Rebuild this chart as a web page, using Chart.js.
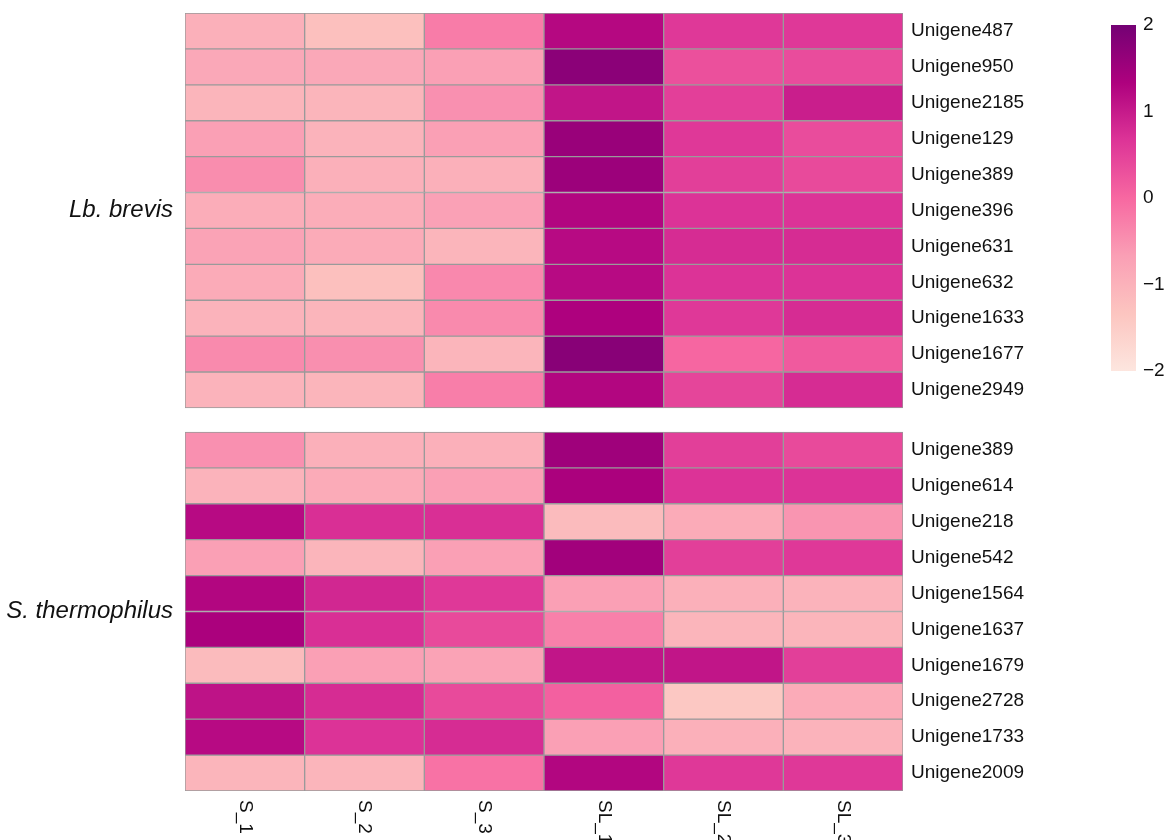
<!DOCTYPE html>
<html><head><meta charset="utf-8">
<script src="https://cdn.jsdelivr.net/npm/chart.js@4.4.1/dist/chart.umd.min.js"></script>
<style>
html,body{margin:0;padding:0;background:#fff;}
#wrap{position:relative;width:1165px;height:840px;overflow:hidden;}
#main{position:absolute;left:0;top:0;}
#cb{position:absolute;left:1100px;top:0;}
</style></head><body>
<div id="wrap">
<canvas id="main" width="1165" height="840"></canvas>
<canvas id="cb" width="65" height="400"></canvas>
</div>
<script>
// ---- data ----
const samples = ['S_1','S_2','S_3','SL_1','SL_2','SL_3'];
const groupNames = ['Lb. brevis','S. thermophilus'];
const lbGenes = ['Unigene487','Unigene950','Unigene2185','Unigene129','Unigene389','Unigene396','Unigene631','Unigene632','Unigene1633','Unigene1677','Unigene2949'];
const lbValues = [
  [-0.96,-1.24,-0.24, 1.24, 0.62, 0.62],
  [-0.82,-0.82,-0.69, 1.73, 0.31, 0.36],
  [-1.05,-1.05,-0.49, 1.07, 0.52, 0.95],
  [-0.69,-1.01,-0.69, 1.57, 0.62, 0.36],
  [-0.45,-0.96,-0.96, 1.54, 0.53, 0.39],
  [-0.92,-0.92,-0.71, 1.27, 0.68, 0.68],
  [-0.74,-0.87,-1.05, 1.21, 0.77, 0.77],
  [-0.87,-1.24,-0.39, 1.21, 0.68, 0.68],
  [-1.01,-1.05,-0.41, 1.33, 0.62, 0.77],
  [-0.41,-0.47,-1.05, 1.77, 0.03, 0.18],
  [-1.01,-1.05,-0.27, 1.27, 0.45, 0.77]
];
const stGenes = ['Unigene389','Unigene614','Unigene218','Unigene542','Unigene1564','Unigene1637','Unigene1679','Unigene2728','Unigene1733','Unigene2009'];
const stValues = [
  [-0.49,-0.96,-0.96, 1.51, 0.53, 0.39],
  [-1.01,-0.87,-0.69, 1.37, 0.68, 0.68],
  [ 1.21, 0.73, 0.73,-1.15,-0.87,-0.55],
  [-0.69,-1.05,-0.69, 1.47, 0.53, 0.62],
  [ 1.27, 0.84, 0.62,-0.69,-0.96,-1.01],
  [ 1.37, 0.73, 0.39,-0.29,-1.05,-1.05],
  [-1.15,-0.69,-0.74, 1.07, 1.07, 0.53],
  [ 1.10, 0.77, 0.39, 0.10,-1.40,-0.87],
  [ 1.21, 0.68, 0.77,-0.69,-0.96,-1.01],
  [-1.05,-1.05,-0.12, 1.27, 0.62, 0.62]
];
const legendTicks = [2, 1, 0, -1, -2];
const legendMin = -2, legendMax = 2;

// ---- colour scale (RdPu-like) ----
const paletteStops = [
  [-2.000,'#fde6df'],[-1.333,'#fcc5c0'],[-0.667,'#fa9fb5'],[0,'#f768a1'],
  [0.667,'#dd3497'],[1.333,'#ae017e'],[2.000,'#740174']
];
function hexToRgb(h){return [parseInt(h.slice(1,3),16),parseInt(h.slice(3,5),16),parseInt(h.slice(5,7),16)];}
function colorFor(v){
  v = Math.max(legendMin, Math.min(legendMax, v));
  for(let i=0;i<paletteStops.length-1;i++){
    const [a,ca]=paletteStops[i],[b,cb]=paletteStops[i+1];
    if(v<=b){
      const t=(v-a)/(b-a), A=hexToRgb(ca), B=hexToRgb(cb);
      return 'rgb('+A.map((x,k)=>Math.round(x+(B[k]-x)*t)).join(',')+')';
    }
  }
  return paletteStops[paletteStops.length-1][1];
}

// ---- main heatmap ----
const FONT = '"Liberation Sans", Arial, sans-serif';
const GAP = 0.67;
const allGenes = lbGenes.concat(stGenes);
const allValues = lbValues.concat(stValues);
const rowTop = i => i < lbGenes.length ? i : i + GAP;
const totalRows = allGenes.length + GAP;

const datasets = allGenes.map((g,i)=>{
  const y0 = rowTop(i);
  return {
    label: g,
    data: allValues[i].map(()=>[y0, y0+1]),
    backgroundColor: allValues[i].map(colorFor),
    borderColor: '#9a9a9a',
    borderWidth: 1,
    borderSkipped: false,
    barPercentage: 1,
    categoryPercentage: 1
  };
});

const colLabels = {
  id: 'colLabels',
  afterDraw(chart){
    const {ctx, chartArea, scales:{x}} = chart;
    ctx.save();
    ctx.font = '19px ' + FONT;
    ctx.fillStyle = '#111';
    ctx.textAlign = 'left';
    ctx.textBaseline = 'middle';
    samples.forEach((s,i)=>{
      ctx.save();
      ctx.translate(x.getPixelForValue(i), chartArea.bottom + 9);
      ctx.rotate(Math.PI/2);
      ctx.fillText(s, 0, 0);
      ctx.restore();
    });
    ctx.restore();
  }
};

new Chart(document.getElementById('main'), {
  type: 'bar',
  data: { labels: samples, datasets },
  options: {
    responsive: false,
    animation: false,
    layout: { padding: { top: 13, bottom: 49, left: 0, right: 0 } },
    plugins: { legend: { display: false }, tooltip: { enabled: false } },
    scales: {
      x: { type: 'category', stacked: true, display: false, offset: true },
      y: {
        type: 'linear', reverse: true, min: 0, max: totalRows, stacked: false, position: 'right',
        grid: { display: false, drawTicks: false }, border: { display: false },
        afterBuildTicks: s => { s.ticks = allGenes.map((g,i)=>({ value: rowTop(i) + 0.5 })); },
        afterFit: s => { s.width = 1165 - 903; s.paddingTop = 0; s.paddingBottom = 0; },
        ticks: { autoSkip: false, padding: 8, color: '#111', font: { family: FONT, size: 19 },
                 callback: (v,i) => allGenes[i] }
      },
      yg: {
        type: 'linear', reverse: true, min: 0, max: totalRows, position: 'left',
        grid: { display: false, drawTicks: false }, border: { display: false },
        afterBuildTicks: s => { s.ticks = [{ value: lbGenes.length/2 }, { value: lbGenes.length + GAP + stGenes.length/2 }]; },
        afterFit: s => { s.width = 185; s.paddingTop = 0; s.paddingBottom = 0; },
        ticks: { autoSkip: false, padding: 12, color: '#111', font: { family: FONT, size: 24, style: 'italic' },
                 callback: (v,i) => groupNames[i] }
      }
    }
  },
  plugins: [colLabels]
});

// ---- colour key ----
new Chart(document.getElementById('cb'), {
  type: 'bar',
  data: { labels: ['key'], datasets: [{
    data: [[legendMin, legendMax]],
    backgroundColor: ctx => {
      const area = ctx.chart.chartArea;
      if (!area) return '#f768a1';
      const y = ctx.chart.scales.y;
      const g = ctx.chart.ctx.createLinearGradient(0, y.getPixelForValue(legendMin), 0, y.getPixelForValue(legendMax));
      paletteStops.forEach(([v,c]) => g.addColorStop((v-legendMin)/(legendMax-legendMin), c));
      return g;
    },
    borderWidth: 0, barPercentage: 1, categoryPercentage: 1
  }]},
  options: {
    responsive: false,
    animation: false,
    layout: { padding: { top: 25, bottom: 29, left: 11, right: 0 } },
    plugins: { legend: { display: false }, tooltip: { enabled: false } },
    scales: {
      x: { display: false },
      y: {
        type: 'linear', min: legendMin, max: legendMax, position: 'right',
        grid: { display: false, drawTicks: false }, border: { display: false },
        afterBuildTicks: s => { s.ticks = legendTicks.map(v => ({ value: v })); },
        afterFit: s => { s.width = 65 - 11 - 25; },
        ticks: { autoSkip: false, padding: 7, color: '#111', font: { family: FONT, size: 19 },
                 callback: v => v < 0 ? '\u2212' + Math.abs(v) : String(v) }
      }
    }
  }
});
</script>
</body></html>
